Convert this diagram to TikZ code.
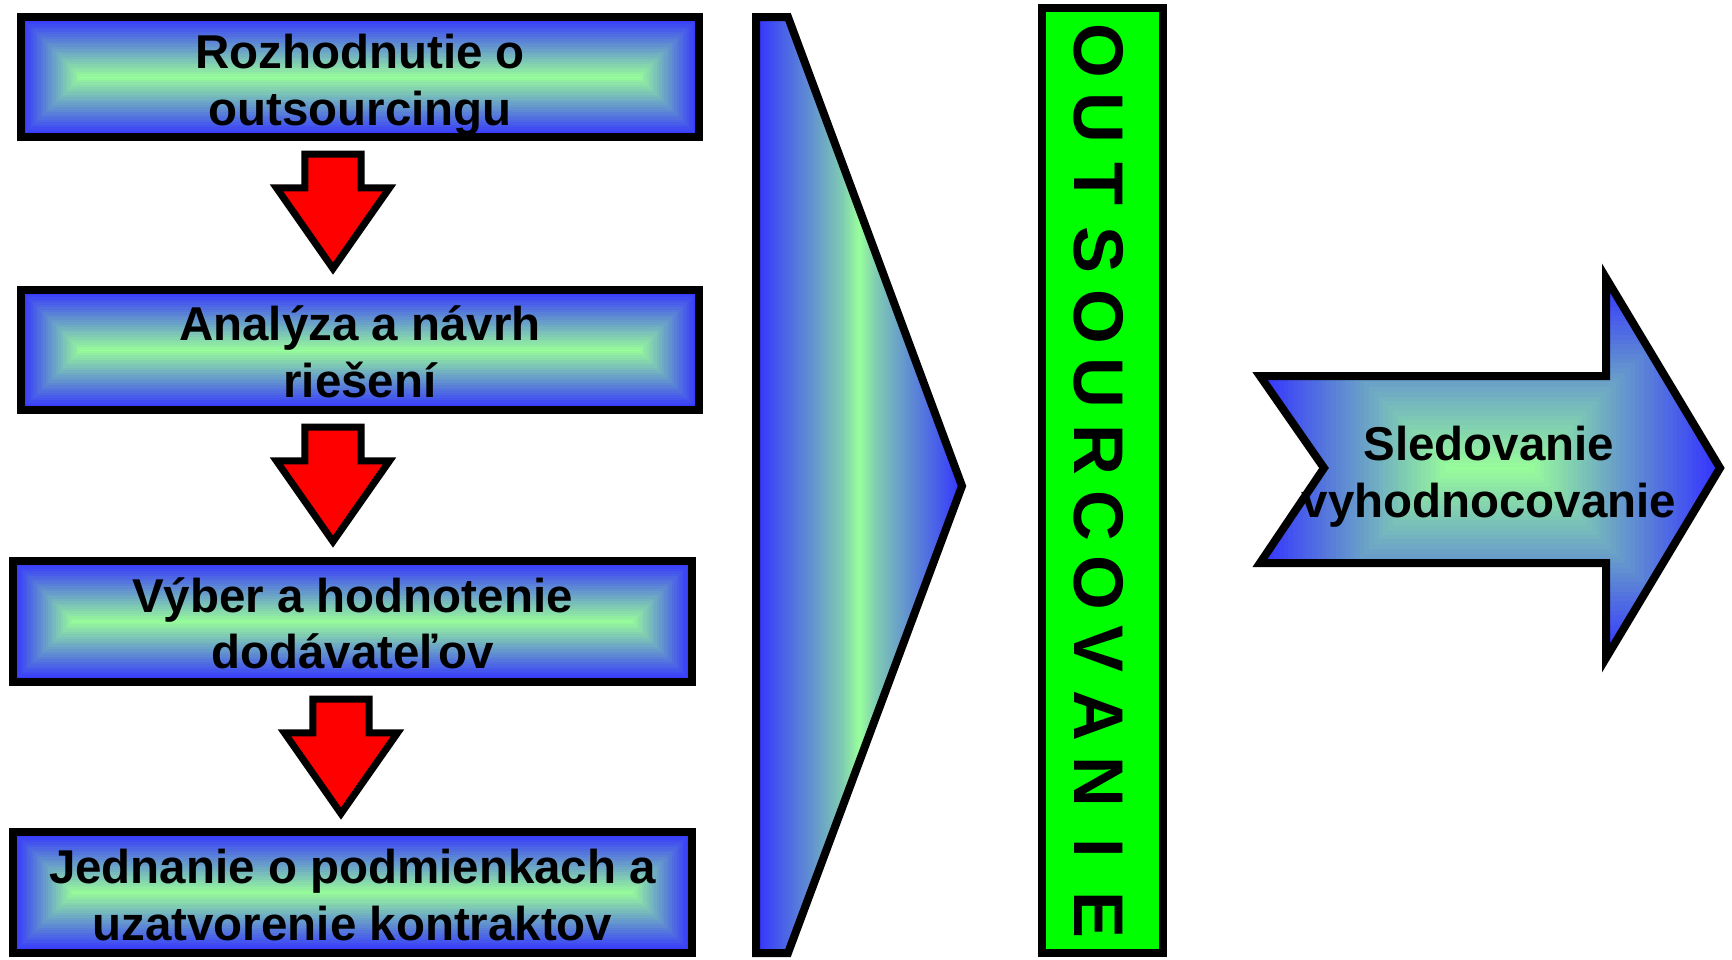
\documentclass[tikz,border=0pt]{standalone}
\usepackage{fontspec}
\setmainfont{Liberation Sans}
\usetikzlibrary{calc,shapes.arrows}
\definecolor{stepblue}{HTML}{3333FF}
\definecolor{steplight}{HTML}{99FF99}
\definecolor{barlime}{HTML}{00FF00}
\definecolor{arrowred}{HTML}{FF0000}
\colorlet{greyblue}{stepblue!55!steplight}
\colorlet{tealblue}{stepblue!25!steplight}

\pgfdeclarehorizontalshading{chevronfade}{100bp}{color(0bp)=(stepblue); color(25bp)=(stepblue);
  color(38bp)=(greyblue); color(46bp)=(tealblue); color(50bp)=(steplight); color(54bp)=(tealblue);
  color(62bp)=(greyblue); color(75bp)=(stepblue); color(100bp)=(stepblue)}

\tikzset{
  frameline/.style={draw=black, line width=0.08cm, line join=miter},
  ringfill/.style 2 args={path picture={
      \foreach \i in {0,...,#1}{
        \pgfmathsetmacro{\mixval}{100*\i/#1}
        \fill[steplight!\mixval!stepblue]
          ($(path picture bounding box.south west)+(\i*#2,\i*#2)$)
          rectangle ($(path picture bounding box.north east)-(\i*#2,\i*#2)$);
      }}},
  boxtext/.style={align=center, inner sep=0pt, font=\fontsize{13.5pt}{16.1pt}\selectfont\bfseries,
    execute at begin node=\strut, execute at end node=\strut},
  stepbox/.style={frameline, minimum width=6.78cm, minimum height=1.20cm, inner sep=0pt, ringfill={24}{0.71pt}},
  downarrow/.style={single arrow, shape border rotate=270, draw=black, line width=0.07cm,
    fill=arrowred, minimum height=1.145cm, minimum width=1.06cm, inner sep=0.245cm,
    single arrow head extend=0.285cm, single arrow tip angle=70, anchor=tail},
  barletter/.style={rotate=-90, inner sep=0pt, text height=0.5cm, text depth=0pt,
    font=\fontsize{20pt}{24pt}\selectfont\bfseries}
}

\begin{document}
\begin{tikzpicture}[x=0.01cm, y=-0.01cm]
  \fill[white] (0,0) rectangle (1732,959);
  \useasboundingbox (0,0) rectangle (1732,959);

  % steps on the left
  \node[stepbox] (decide) at (360,77) {};
  \node[stepbox] (analyse) at (360,350) {};
  \node[stepbox] (choose) at (352.5,621.5) {};
  \node[stepbox] (contract) at (352.5,892.5) {};

  \node[boxtext] (decidetext) at ($(decide.center)+(0,11)$) {Rozhodnutie o\\outsourcingu};
  \node[boxtext] (analysetext) at ($(analyse.center)+(0,10)$) {Analýza a návrh\\riešení};
  \node[boxtext] (choosetext) at ($(choose.center)+(0,10)$) {Výber a hodnotenie\\dodávateľov};
  \node[boxtext] (contracttext) at ($(contract.center)+(0,11)$) {Jednanie o podmienkach a\\uzatvorenie kontraktov};

  \node[downarrow] (go1) at (333,150.5) {};
  \node[downarrow] (go2) at (333,423.5) {};
  \node[downarrow] (go3) at (341,695.5) {};

  % big chevron
  \draw[frameline, shading=chevronfade]
    (756,17) -- (788,17) -- (962,486) -- (788,953) -- (756,953) -- cycle;

  % green bar
  \node[frameline, fill=barlime, minimum width=1.21cm, minimum height=9.45cm, inner sep=0pt]
    (outbar) at (1102.5,480.5) {};
  \foreach \ch [count=\k from 0] in {O,U,T,S,O,U,R,C,O,V,A,N,I,E}
    \node[barletter] (let\k) at (1100,51+66.46*\k) {\ch};

  % right arrow
  \draw[frameline, ringfill={40}{1.35pt}]
    (1260,376) -- (1606,376) -- (1606,278) -- (1720,468) -- (1606,658)
    -- (1606,563) -- (1260,563) -- (1324,468) -- cycle;
  \node[boxtext] (monitor) at (1489,480) {Sledovanie\\vyhodnocovanie};
\end{tikzpicture}
\end{document}
